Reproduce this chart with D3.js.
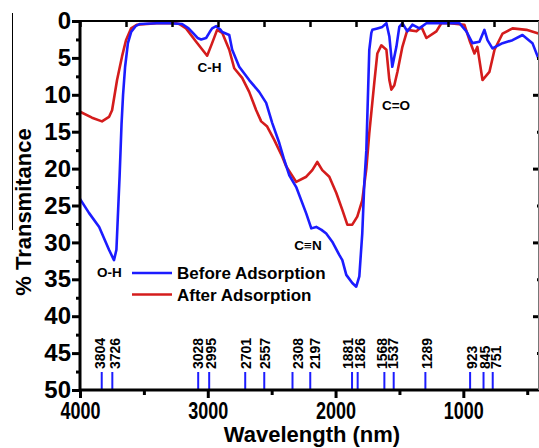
<!DOCTYPE html>
<html>
<head>
<meta charset="utf-8">
<script src="https://cdn.jsdelivr.net/npm/d3@7"></script>
<style>
  html, body { margin: 0; padding: 0; background: #fff; }
  svg { display: block; }
  text { font-family: "Liberation Sans", Arial, sans-serif; font-weight: bold; fill: #000; }
</style>
</head>
<body>
<svg id="chart" width="539" height="448"></svg>
<script>
// ---- data ----
const beforeWn = [4000, 3930, 3850, 3773, 3734, 3715, 3705, 3690, 3675, 3663, 3647, 3625, 3600, 3565, 3530, 3400, 3300, 3201, 3150, 3122, 3080, 3052, 3013, 2985, 2966, 2934, 2900, 2887, 2832, 2809, 2754, 2676, 2598, 2543, 2496, 2441, 2402, 2362, 2308, 2229, 2190, 2151, 2110, 2073, 2026, 1971, 1947, 1916, 1869, 1838, 1814, 1791, 1775, 1759, 1736, 1720, 1712, 1673, 1634, 1602, 1579, 1556, 1524, 1501, 1477, 1438, 1399, 1344, 1289, 1164, 1031, 976, 929, 874, 835, 811, 772, 693, 615, 537, 459, 412];
const beforeT  = [24.1, 26.0, 27.9, 31.0, 32.4, 31.0, 27.0, 21.0, 14.0, 10.0, 6.2, 3.0, 1.5, 0.7, 0.4, 0.3, 0.3, 0.4, 1.0, 1.5, 2.3, 2.5, 2.3, 1.5, 1.0, 0.7, 1.2, 1.5, 1.9, 3.9, 6.2, 8.0, 9.6, 11.1, 13.8, 16.5, 18.8, 20.9, 22.5, 26.1, 28.1, 27.9, 28.3, 28.8, 29.9, 31.7, 32.4, 34.4, 35.5, 36.0, 34.6, 28.8, 22.0, 17.5, 3.9, 1.6, 1.2, 1.0, 0.8, 0.3, 2.1, 6.2, 3.5, 0.8, 0.3, 1.4, 0.5, 1.0, 0.3, 0.3, 0.3, 1.4, 3.0, 2.8, 1.2, 2.6, 3.7, 3.0, 2.6, 1.9, 3.0, 5.1];

const afterWn = [4000, 3906, 3828, 3773, 3749, 3710, 3671, 3640, 3600, 3553, 3400, 3250, 3224, 3170, 3091, 3005, 2966, 2927, 2887, 2832, 2793, 2731, 2676, 2621, 2582, 2535, 2480, 2417, 2386, 2308, 2229, 2182, 2143, 2104, 2049, 1994, 1947, 1908, 1869, 1830, 1791, 1759, 1736, 1697, 1673, 1642, 1602, 1579, 1563, 1540, 1516, 1477, 1438, 1367, 1328, 1289, 1211, 1172, 1109, 992, 952, 913, 890, 850, 796, 756, 693, 615, 506, 412];
const afterT  = [12.3, 13.1, 13.6, 13.0, 12.1, 8.0, 4.8, 2.6, 1.0, 0.5, 0.3, 0.3, 0.4, 1.0, 2.8, 4.7, 3.0, 1.2, 1.6, 3.9, 6.4, 7.7, 9.6, 12.1, 13.6, 14.3, 16.1, 18.4, 19.7, 21.8, 21.1, 20.2, 19.1, 20.2, 21.1, 23.3, 25.6, 27.6, 27.6, 26.5, 24.3, 20.0, 15.2, 8.4, 4.4, 3.3, 3.9, 8.0, 9.3, 8.7, 6.9, 3.5, 1.2, 1.4, 0.8, 2.3, 1.4, 0.3, 0.3, 0.5, 2.6, 4.4, 3.5, 8.0, 6.9, 3.9, 1.7, 1.0, 1.2, 1.7];

const peakLabels         = ["3804", "3726", "3028", "2995", "2701", "2557", "2308", "2197", "1881", "1826", "1568", "1537", "1289", "923", "845", "751"];
const peakPositions      = [3830, 3747, 3075, 2989, 2707, 2558, 2337, 2198, 1871, 1827, 1618, 1545, 1297, 947, 842, 770];
const peakLabelPositions = [3843, 3726, 3076, 2975, 2701, 2552, 2292, 2157, 1900, 1810, 1636, 1550, 1284, 932, 830, 748];

const bandLabels = ["O-H", "C-H", "C\u2261N", "C=O"];
const bandWn     = [3770, 2987, 2216, 1527];
const bandT      = [34.7, 6.9, 31.0, 12.1];

const xMajorTicks = [4000, 3000, 2000, 1000];
const xMinorTicks = [3500, 2500, 1500, 500];
const yMajorTicks = [0, 5, 10, 15, 20, 25, 30, 35, 40, 45, 50];
const yMinorTicks = [2.5, 7.5, 12.5, 17.5, 22.5, 27.5, 32.5, 37.5, 42.5, 47.5];
const topTicks = d3.range(4000, 399, -360);
const rightMajorTicks = [10, 20, 30, 40];
const rightMinorTicks = [5, 15, 25, 35, 45];

const seriesNames = ["Before Adsorption", "After Adsorption"];
const seriesColors = ["#1c1cff", "#d41c1c"];

// ---- layout ----
const svg = d3.select("#chart");
const L = 80, R = 540, T = 21, B = 390;
const x = d3.scaleLinear().domain([4000, 400]).range([L, R]);
const y = d3.scaleLinear().domain([0, 50]).range([T, B]);

svg.append("defs").append("clipPath").attr("id", "clip")
  .append("rect").attr("x", L).attr("y", T - 2).attr("width", R - L).attr("height", B - T + 2);

// edge line at far left of the original
svg.append("line").attr("x1", 12.5).attr("x2", 12.5).attr("y1", 13).attr("y2", 230)
  .attr("stroke", "#000").attr("stroke-width", 1);

// curves
const line = d3.line().x(d => x(d[0])).y(d => y(d[1]));
const beforeData = beforeWn.map((w, i) => [w, beforeT[i]]);
const afterData = afterWn.map((w, i) => [w, afterT[i]]);
const g = svg.append("g").attr("clip-path", "url(#clip)");
g.append("path").datum(afterData).attr("d", line).attr("fill", "none")
  .attr("stroke", seriesColors[1]).attr("stroke-width", 2.6).attr("stroke-linejoin", "round");
g.append("path").datum(beforeData).attr("d", line).attr("fill", "none")
  .attr("stroke", seriesColors[0]).attr("stroke-width", 2.6).attr("stroke-linejoin", "round");

// peak markers
const peaks = svg.append("g");
peakPositions.forEach((p, i) => {
  const px = x(p);
  peaks.append("line").attr("x1", px).attr("x2", px).attr("y1", 372).attr("y2", B)
    .attr("stroke", "#1c1cff").attr("stroke-width", 2);
  const lx = x(peakLabelPositions[i]);
  peaks.append("text").attr("transform", `translate(${lx + 5},369) rotate(-90)`)
    .attr("font-size", 14).attr("text-anchor", "start").text(peakLabels[i]);
});

// band labels
bandLabels.forEach((t, i) => {
  svg.append("text").attr("x", x(bandWn[i])).attr("y", y(bandT[i]))
    .attr("font-size", 13.5).attr("text-anchor", "middle").text(t);
});

function styleAxis(sel, width) {
  sel.select(".domain").remove();
  sel.selectAll(".tick line").attr("stroke", "#000").attr("stroke-width", width);
}

// bottom axis
const xb = svg.append("g").attr("transform", `translate(0,${B})`)
  .call(d3.axisBottom(x).tickValues(xMajorTicks).tickSize(8).tickPadding(4).tickFormat(d3.format("d")));
styleAxis(xb, 3);
xb.selectAll("text").attr("font-size", 24).attr("font-family", "Liberation Sans, Arial, sans-serif")
  .attr("font-weight", "bold").attr("fill", "#000")
  .attr("textLength", 40).attr("lengthAdjust", "spacingAndGlyphs");
const xbm = svg.append("g").attr("transform", `translate(0,${B})`)
  .call(d3.axisBottom(x).tickValues(xMinorTicks).tickSize(5).tickFormat(""));
styleAxis(xbm, 3);

// left axis
const yl = svg.append("g").attr("transform", `translate(${L},0)`)
  .call(d3.axisLeft(y).tickValues(yMajorTicks).tickSize(8).tickPadding(1));
styleAxis(yl, 3);
yl.selectAll("text").attr("font-size", 24).attr("font-family", "Liberation Sans, Arial, sans-serif")
  .attr("font-weight", "bold").attr("fill", "#000");
const ylm = svg.append("g").attr("transform", `translate(${L},0)`)
  .call(d3.axisLeft(y).tickValues(yMinorTicks).tickSize(4).tickFormat(""));
styleAxis(ylm, 3);

// top axis (inward ticks)
const xt = svg.append("g").attr("transform", `translate(0,${T})`)
  .call(d3.axisTop(x).tickValues(topTicks).tickSize(-6).tickFormat(""));
styleAxis(xt, 2.5);

// right axis (inward ticks)
const yr = svg.append("g").attr("transform", `translate(${R},0)`)
  .call(d3.axisRight(y).tickValues(rightMajorTicks).tickSize(-7).tickFormat(""));
styleAxis(yr, 3);
const yrm = svg.append("g").attr("transform", `translate(${R},0)`)
  .call(d3.axisRight(y).tickValues(rightMinorTicks).tickSize(-3).tickFormat(""));
styleAxis(yrm, 3);

// frame lines
svg.append("line").attr("x1", L).attr("x2", R).attr("y1", T).attr("y2", T).attr("stroke", "#000").attr("stroke-width", 2.2);
svg.append("line").attr("x1", L).attr("x2", R).attr("y1", B).attr("y2", B).attr("stroke", "#000").attr("stroke-width", 3);
svg.append("line").attr("x1", L).attr("x2", L).attr("y1", T - 1).attr("y2", B + 1.5).attr("stroke", "#000").attr("stroke-width", 3);
svg.append("line").attr("x1", 538.5).attr("x2", 538.5).attr("y1", T).attr("y2", B).attr("stroke", "#777").attr("stroke-width", 1);

// axis titles
svg.append("text").attr("x", (L + R) / 2 + 2).attr("y", 442).attr("font-size", 22)
  .attr("text-anchor", "middle").text("Wavelength (nm)");
svg.append("text").attr("transform", "translate(31,212) rotate(-90)").attr("font-size", 22)
  .attr("text-anchor", "middle").text("% Transmitance");

// legend
const legY = [273, 294.5];
seriesNames.forEach((n, i) => {
  svg.append("line").attr("x1", 132).attr("x2", 172).attr("y1", legY[i]).attr("y2", legY[i])
    .attr("stroke", seriesColors[i]).attr("stroke-width", 2.6);
  svg.append("text").attr("x", 177).attr("y", legY[i] + 6).attr("font-size", 17).text(n);
});
</script>
</body>
</html>
